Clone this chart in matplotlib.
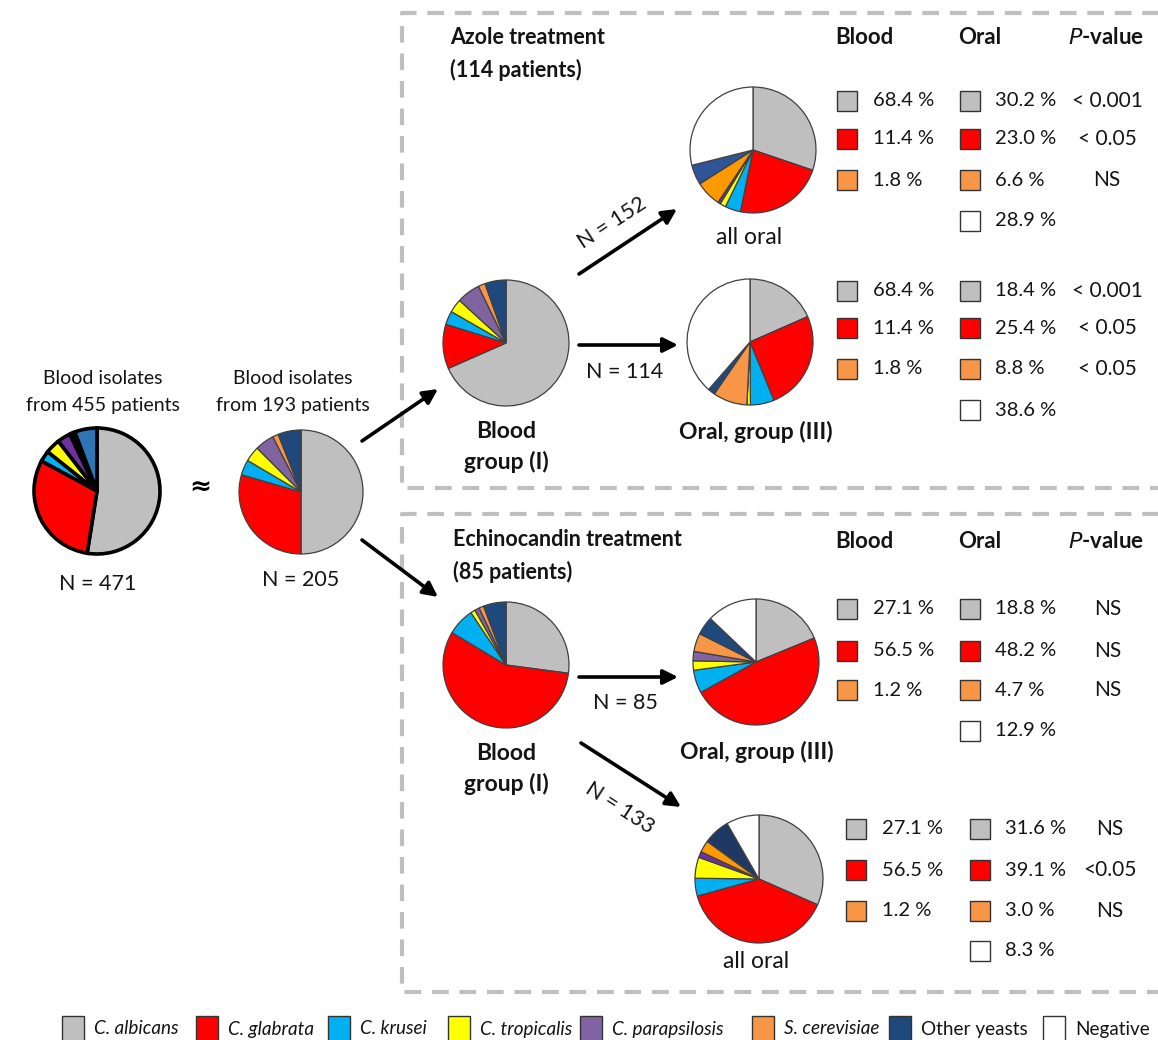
import matplotlib
matplotlib.use("Agg")
import matplotlib.pyplot as plt
from matplotlib.patches import Rectangle

plt.rcParams['font.family'] = ['Lato', 'DejaVu Sans']

# ---- data -------------------------------------------------------------
species = ["C. albicans", "C. glabrata", "C. krusei", "C. tropicalis",
           "C. parapsilosis", "S. cerevisiae", "Other yeasts", "Negative"]
species_italic = [True, True, True, True, True, True, False, False]
colors = ["#BFBFBF", "#FF0000", "#00B0F0", "#FFFF00",
          "#8064A2", "#F79646", "#1F497D", "#FFFFFF"]
colors_bright = ["#BFBFBF", "#FF0000", "#00B0F0", "#FFFF00",
                 "#7030A0", "#FF9900", "#2F5597", "#FFFFFF"]
colors_all455 = ["#BFBFBF", "#FF0000", "#00B0F0", "#FFFF00",
                 "#7030A0", "#BF9000", "#111111", "#2E75B6"]

# species shares (%) in each pie, in legend order
blood_455 = [52.5, 30.4, 2.8, 3.8, 3.4, 0.6, 0.8, 5.7]
blood_193 = [50.0, 29.5, 4.0, 4.0, 5.0, 1.5, 6.0, 0.0]
azole_blood = [68.4, 11.4, 3.5, 3.5, 6.0, 1.8, 5.4, 0.0]
azole_all_oral = [30.2, 23.0, 4.0, 1.5, 0.7, 6.6, 5.1, 28.9]
azole_oral_iii = [18.4, 25.4, 6.1, 0.9, 0.0, 8.8, 1.8, 38.6]
echino_blood = [27.1, 56.5, 7.0, 1.2, 1.2, 1.2, 5.8, 0.0]
echino_oral_iii = [18.8, 48.2, 5.9, 2.4, 2.4, 4.7, 4.7, 12.9]
echino_all_oral = [31.6, 39.1, 4.5, 5.3, 1.5, 3.0, 6.7, 8.3]

# comparison tables: blood %, oral % and P-values for albicans / glabrata / cerevisiae
azole_t1_blood = ["68.4 %", "11.4 %", "1.8 %"]
azole_t1_oral = ["30.2 %", "23.0 %", "6.6 %", "28.9 %"]
azole_t1_p = ["< 0.001", "< 0.05", "NS"]
azole_t2_blood = ["68.4 %", "11.4 %", "1.8 %"]
azole_t2_oral = ["18.4 %", "25.4 %", "8.8 %", "38.6 %"]
azole_t2_p = ["< 0.001", "< 0.05", "< 0.05"]
echino_t1_blood = ["27.1 %", "56.5 %", "1.2 %"]
echino_t1_oral = ["18.8 %", "48.2 %", "4.7 %", "12.9 %"]
echino_t1_p = ["NS", "NS", "NS"]
echino_t2_blood = ["27.1 %", "56.5 %", "1.2 %"]
echino_t2_oral = ["31.6 %", "39.1 %", "3.0 %", "8.3 %"]
echino_t2_p = ["NS", "<0.05", "NS"]

# ---- canvas in pixel units --------------------------------------------
W, H = 1158, 1040
fig = plt.figure(figsize=(W / 100, H / 100), dpi=100)
ax = fig.add_axes([0, 0, 1, 1])

TXT = "#141414"
FS_NUM = 14.5     # table numbers
FS_BOLD = 16.0    # bold captions
FS_LBL = 15.5     # N = ... labels


def pie(values, cols, cx, cy, r, lw=0.9, ec="#404040"):
    ax.pie(values, colors=cols, startangle=-90, counterclock=True,
           center=(cx, cy), radius=r, frame=True,
           wedgeprops=dict(linewidth=lw, edgecolor=ec))


pie(blood_455, colors_all455, 97, 491, 63, lw=2.6, ec="black")
pie(blood_193, colors, 301, 492, 62)
pie(azole_blood, colors, 506, 343, 63)
pie(azole_all_oral, colors_bright, 753, 150, 63)
pie(azole_oral_iii, colors, 750, 342, 63)
pie(echino_blood, colors, 506, 665, 63)
pie(echino_oral_iii, colors, 756, 662, 63)
pie(echino_all_oral, colors_bright[:6] + ["#1F3864", "#FFFFFF"], 759, 879, 64)


def text(x, y, s, size=FS_NUM, ha="center", va="center", **kw):
    ax.text(x, y, s, fontsize=size, ha=ha, va=va, color=kw.pop("color", TXT), **kw)


def arrow(x0, y0, x1, y1):
    ax.annotate("", xy=(x1, y1), xytext=(x0, y0),
                arrowprops=dict(arrowstyle="-|>", lw=2.6, color="black",
                                mutation_scale=22, shrinkA=0, shrinkB=0))


# left part
text(103, 378, "Blood isolates", size=14)
text(103, 405, "from 455 patients", size=14)
text(293, 378, "Blood isolates", size=14)
text(293, 405, "from 193 patients", size=14)
text(98, 584, "N = 471", size=FS_LBL)
text(301, 580, "N = 205", size=FS_LBL)
ax.text(200, 487, "≈", fontsize=19, ha="center", va="center", color="black",
        fontweight="bold", family="DejaVu Sans")
arrow(362, 441, 438, 389)
arrow(362, 540, 438, 597)

# dashed group boxes (open on the right)
for top, bottom in [(13, 488), (514, 992)]:
    ax.plot([W + 10, 402, 402, W + 10], [top, top, bottom, bottom],
            color="#BFBFBF", lw=3, linestyle=(0, (4, 2.6)), solid_capstyle="butt")

# azole panel
text(450, 37, "Azole treatment", size=15.5, ha="left", fontweight="bold")
text(450, 70, "(114 patients)", size=15.5, ha="left", fontweight="bold")
text(506, 431, "Blood", size=16.5, fontweight="bold")
text(506, 462, "group (I)", size=16.5, fontweight="bold")
text(749, 237, "all oral", size=16.5)
text(756, 432, "Oral, group (III)", size=16.5, fontweight="bold")
arrow(579, 274, 677, 209)
text(612, 223, "N = 152", size=FS_LBL, rotation=33)
arrow(579, 345, 678, 345)
text(625, 372, "N = 114", size=FS_LBL)

# echinocandin panel
text(453, 540, "Echinocandin treatment", size=15.5, ha="left", fontweight="bold")
text(453, 572, "(85 patients)", size=15.5, ha="left", fontweight="bold")
text(506, 753, "Blood", size=16.5, fontweight="bold")
text(506, 784, "group (I)", size=16.5, fontweight="bold")
text(757, 752, "Oral, group (III)", size=16.5, fontweight="bold")
text(756, 961, "all oral", size=16.5)
arrow(579, 677, 678, 677)
text(625, 703, "N = 85", size=FS_LBL)
arrow(581, 743, 681, 807)
text(620, 808, "N = 133", size=FS_LBL, rotation=-33)

# column headers
for hy in (38, 542):
    text(835, hy, "Blood", size=FS_BOLD, ha="left", fontweight="bold")
    text(958, hy, "Oral", size=FS_BOLD, ha="left", fontweight="bold")
    text(1106, hy, r"$\bf{\it{P}}$-value", size=FS_BOLD, fontweight="bold")

row_colors = [colors[0], colors[1], colors[5], colors[7]]


def table(bx, ox, px, ys, blood, oral, pvals):
    for i, y in enumerate(ys):
        if i < len(blood):
            ax.add_patch(Rectangle((bx, y - 10), 20, 20, facecolor=row_colors[i],
                                   edgecolor="#333333", lw=1))
            text(bx + 36, y, blood[i], ha="left")
            text(px, y, pvals[i], size=15)
        ax.add_patch(Rectangle((ox, y - 10), 20, 20, facecolor=row_colors[i],
                               edgecolor="#333333", lw=1))
        text(ox + 35, y, oral[i], ha="left")


table(837, 960, 1107, [101, 139, 180, 221], azole_t1_blood, azole_t1_oral, azole_t1_p)
table(837, 960, 1107, [291, 328, 369, 410], azole_t2_blood, azole_t2_oral, azole_t2_p)
table(837, 960, 1108, [609, 651, 690, 731], echino_t1_blood, echino_t1_oral, echino_t1_p)
table(846, 970, 1110, [829, 870, 911, 951], echino_t2_blood, echino_t2_oral, echino_t2_p)

# species legend along the bottom
leg_x = [62, 196, 328, 448, 580, 752, 889, 1043]
for xi, name, col, it in zip(leg_x, species, colors, species_italic):
    ax.add_patch(Rectangle((xi, 1016), 22, 28, facecolor=col,
                           edgecolor="#333333", lw=1))
    text(xi + 32, 1029, name, size=13.6, ha="left",
         style="italic" if it else "normal")

ax.set_xlim(0, W)
ax.set_ylim(H, 0)
ax.set_aspect("auto")
ax.axis("off")
fig.savefig("out.png", dpi=100)
